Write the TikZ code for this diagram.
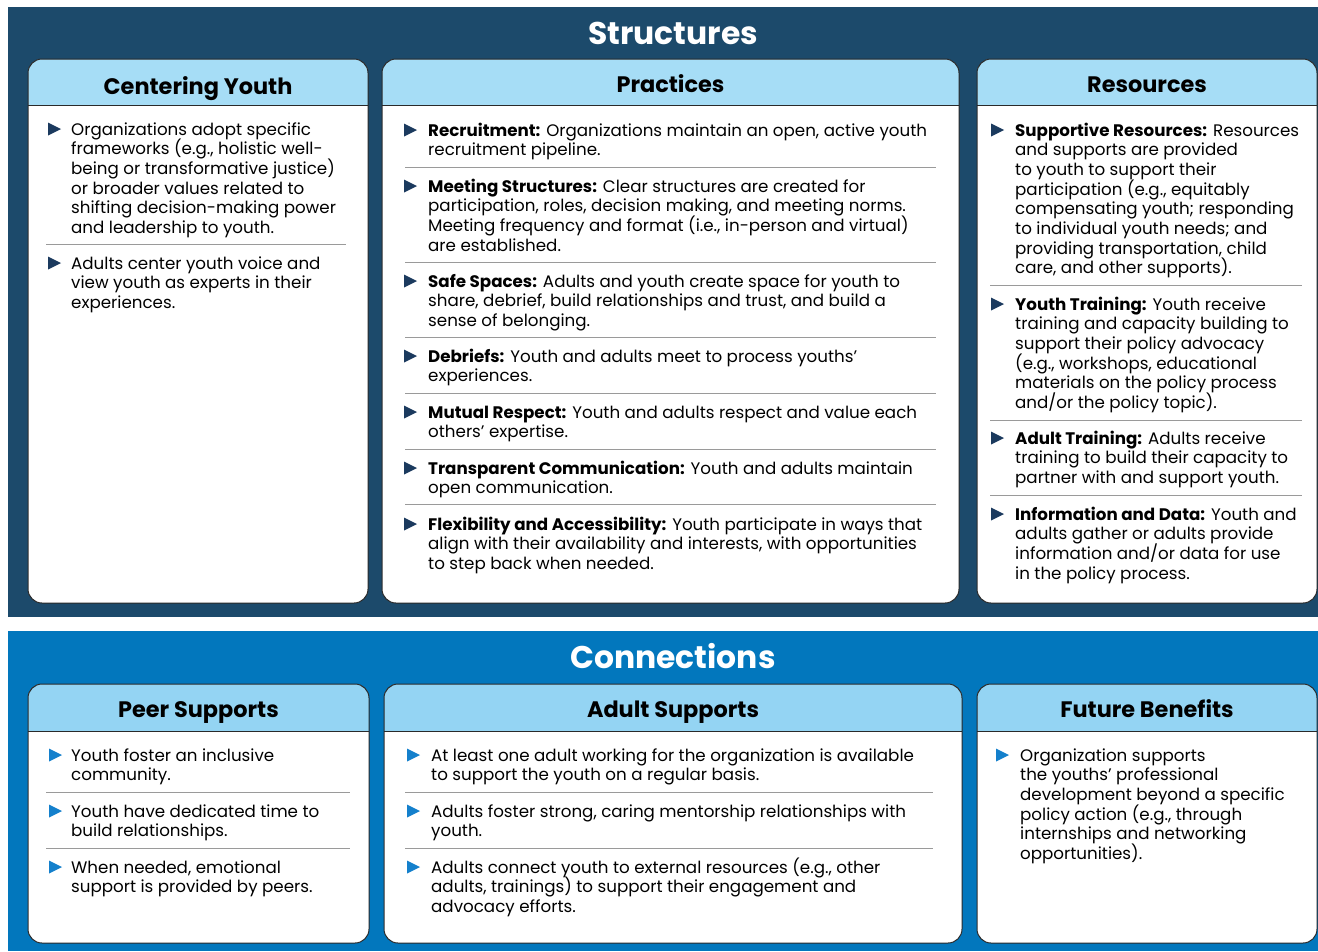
\documentclass[tikz,border=0pt]{standalone}
\usepackage{fontspec}
\setmainfont{Poppins}
\definecolor{topbg}{HTML}{1C4A6B}
\definecolor{botbg}{HTML}{0277BD}
\definecolor{tophd}{HTML}{A6DDF6}
\definecolor{bothd}{HTML}{94D4F3}
\definecolor{topbul}{HTML}{1B3A5E}
\definecolor{botbul}{HTML}{1480CC}
\definecolor{sepc}{HTML}{9A9A9A}
\definecolor{edgec}{HTML}{2A2A2A}
\newcommand{\itemfont}{\fontsize{16.7}{19.7}\selectfont\lineskiplimit=-100pt\lineskip=0pt}
\newcommand{\itm}[1]{\parbox[t]{600pt}{\itemfont\raggedright #1}}
\tikzset{
  boxline/.style={draw=edgec, line width=1pt},
  hdtext/.style={font=\fontsize{22.4}{26}\selectfont\bfseries, text=black, inner sep=0pt, anchor=base},
  titletext/.style={font=\fontsize{31.4}{36}\selectfont\bfseries, text=white, inner sep=0pt, anchor=base},
  item/.style={anchor=base west, inner sep=0pt, text=black},
  sepline/.style={draw=sepc, line width=1pt},
}
% x1 x2 top headerbottom bottom hdcolor title name baseline
\newcommand{\panelbox}[9]{%
  \begin{scope}
    \clip[rounded corners=14pt] (#1,#3) rectangle (#2,#5);
    \fill[white] (#1,#3) rectangle (#2,#5);
    \fill[#6] (#1,#3) rectangle (#2,#4);
  \end{scope}
  \draw[boxline] (#1,#4) -- (#2,#4);
  \draw[boxline, rounded corners=14pt] (#1,#3) rectangle (#2,#5);
  \node[hdtext] (#8) at ({(#1+#2)/2},#9) {#7};
}
% name bulletx textx y color text
\newcommand{\entry}[6]{%
  \fill[#5] (#2,#4-6.5) -- (#2+13,#4) -- (#2,#4+6.5) -- cycle;
  \node[item] (#1) at (#3,#4+6) {\itm{#6}};
}
\begin{document}
\begin{tikzpicture}[x=1pt,y=-1pt]
\useasboundingbox (0,0) rectangle (1318,951);
\fill[white] (0,0) rectangle (1318,951);
% panels
\fill[topbg] (8,7) rectangle (1318,617);
\fill[botbg] (8,631) rectangle (1318,951);
\node[titletext] (structures) at (673,44) {Structures};
\node[titletext] (connections) at (673,668) {Connections};

% ---------- Structures ----------
\panelbox{28}{368}{59}{105}{603}{tophd}{Centering Youth}{hcy}{94}
\panelbox{382}{959}{59}{105}{603}{tophd}{Practices}{hpr}{92}
\panelbox{977}{1317}{59}{105}{603}{tophd}{Resources}{hre}{92}

\entry{cy1}{48}{71}{129}{topbul}{Organizations adopt specific\\frameworks (e.g., holistic well-\\being or transformative justice)\\or broader values related to\\shifting decision-making power\\and leadership to youth.}
\draw[sepline] (46,244) -- (346,244);
\entry{cy2}{48}{71}{263}{topbul}{Adults center youth voice and\\view youth as experts in their\\experiences.}

\entry{pr1}{404}{428}{130}{topbul}{\textbf{Recruitment:} Organizations maintain an open, active youth\\recruitment pipeline.}
\draw[sepline] (405,167) -- (936,167);
\entry{pr2}{404}{428}{186}{topbul}{\textbf{Meeting Structures:} Clear structures are created for\\participation, roles, decision making, and meeting norms.\\Meeting frequency and format (i.e., in-person and virtual)\\are established.}
\draw[sepline] (405,262) -- (936,262);
\entry{pr3}{404}{428}{281}{topbul}{\textbf{Safe Spaces:} Adults and youth create space for youth to\\share, debrief, build relationships and trust, and build a\\sense of belonging.}
\draw[sepline] (405,337) -- (936,337);
\entry{pr4}{404}{428}{356}{topbul}{\textbf{Debriefs:} Youth and adults meet to process youths’\\experiences.}
\draw[sepline] (405,393) -- (936,393);
\entry{pr5}{404}{428}{412}{topbul}{\textbf{Mutual Respect:} Youth and adults respect and value each\\others’ expertise.}
\draw[sepline] (405,449) -- (936,449);
\entry{pr6}{404}{428}{468}{topbul}{\textbf{Transparent Communication:} Youth and adults maintain\\open communication.}
\draw[sepline] (405,504) -- (936,504);
\entry{pr7}{404}{428}{524}{topbul}{\textbf{Flexibility and Accessibility:} Youth participate in ways that\\align with their availability and interests, with opportunities\\to step back when needed.}

\entry{re1}{991}{1015}{130}{topbul}{\textbf{Supportive Resources:} Resources\\and supports are provided\\to youth to support their\\participation (e.g., equitably\\compensating youth; responding\\to individual youth needs; and\\providing transportation, child\\care, and other supports).}
\draw[sepline] (990,285) -- (1302,285);
\entry{re2}{991}{1015}{304}{topbul}{\textbf{Youth Training:} Youth receive\\training and capacity building to\\support their policy advocacy\\(e.g., workshops, educational\\materials on the policy process\\and/or the policy topic).}
\draw[sepline] (990,420) -- (1302,420);
\entry{re3}{991}{1015}{438}{topbul}{\textbf{Adult Training:} Adults receive\\training to build their capacity to\\partner with and support youth.}
\draw[sepline] (990,495) -- (1302,495);
\entry{re4}{991}{1015}{514}{topbul}{\textbf{Information and Data:} Youth and\\adults gather or adults provide\\information and/or data for use\\in the policy process.}

% ---------- Connections ----------
\panelbox{28}{369}{684}{731}{943}{bothd}{Peer Supports}{hps}{717}
\panelbox{384}{962}{684}{731}{943}{bothd}{Adult Supports}{has}{717}
\panelbox{977}{1317}{684}{731}{943}{bothd}{Future Benefits}{hfb}{717}

\entry{ps1}{49}{71}{755}{botbul}{Youth foster an inclusive\\community.}
\draw[sepline] (46,792) -- (350,792);
\entry{ps2}{49}{71}{811}{botbul}{Youth have dedicated time to\\build relationships.}
\draw[sepline] (46,848) -- (350,848);
\entry{ps3}{49}{71}{867}{botbul}{When needed, emotional\\support is provided by peers.}

\entry{as1}{407}{431}{755}{botbul}{At least one adult working for the organization is available\\to support the youth on a regular basis.}
\draw[sepline] (405,792) -- (933,792);
\entry{as2}{407}{431}{811}{botbul}{Adults foster strong, caring mentorship relationships with\\youth.}
\draw[sepline] (405,848) -- (933,848);
\entry{as3}{407}{431}{867}{botbul}{Adults connect youth to external resources (e.g., other\\adults, trainings) to support their engagement and\\advocacy efforts.}

\entry{fb1}{996}{1020}{755}{botbul}{Organization supports\\the youths’ professional\\development beyond a specific\\policy action (e.g., through\\internships and networking\\opportunities).}
\end{tikzpicture}
\end{document}
